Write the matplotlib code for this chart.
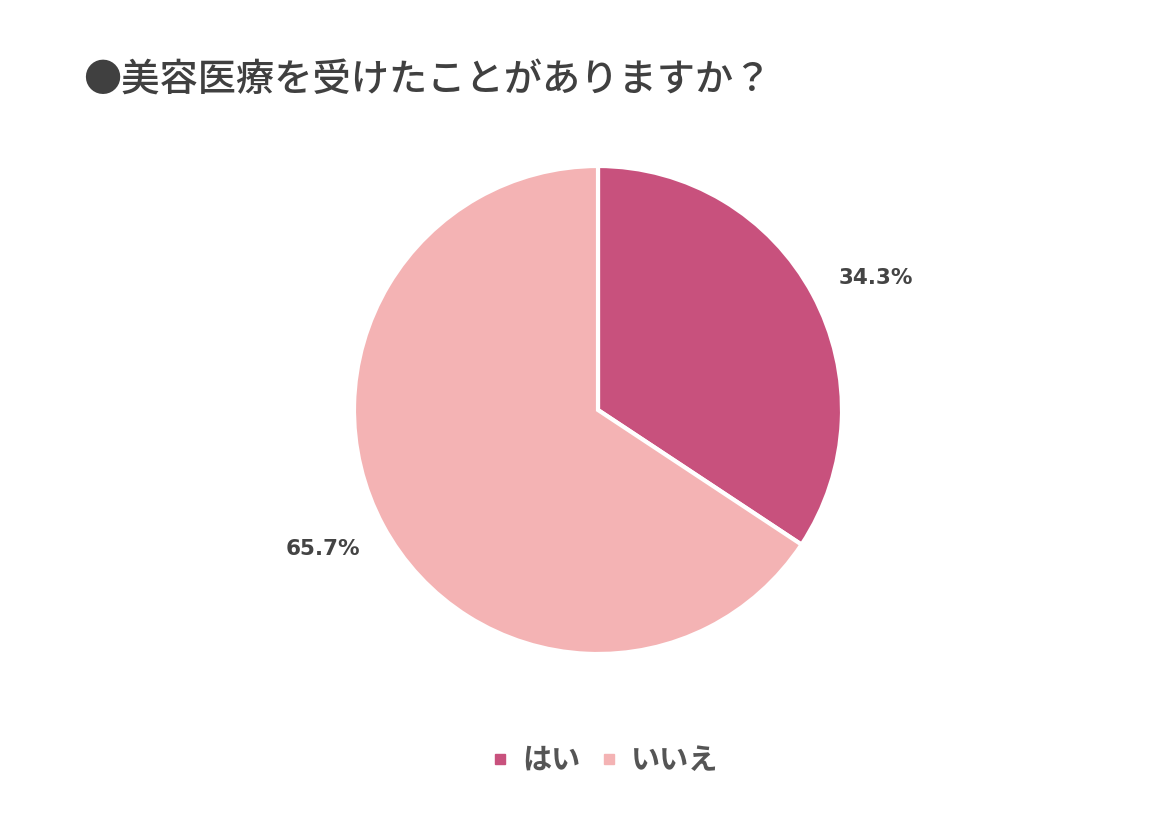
import matplotlib.pyplot as plt
from matplotlib.lines import Line2D

plt.rcParams['font.family'] = ['Noto Sans CJK JP', 'DejaVu Sans']

labels = ['はい', 'いいえ']
values = [34.3, 65.7]
colors = ['#C8517D', '#F4B3B4']
title = '●美容医療を受けたことがありますか？'

fig = plt.figure(figsize=(11.52, 8.14), dpi=100)
fig.set_facecolor('white')

# pie centre ~ (598, 410) px, radius ~244 px
cx, cy, r = 598, 410, 244
W, H = 1152, 814
ax = fig.add_axes([(cx - r) / W, (H - cy - r) / H, 2 * r / W, 2 * r / H])

wedges, texts, autotexts = ax.pie(
    values, colors=colors, startangle=90, counterclock=False,
    autopct='%.1f%%', pctdistance=1.27, radius=1,
    wedgeprops={'edgecolor': 'white', 'linewidth': 3},
)
# small nudges so the labels sit where the original puts them
nudges = [(0.02, -0.06), (-0.01, 0.03)]
for t, (dx, dy) in zip(autotexts, nudges):
    x, y = t.get_position()
    t.set_position((x + dx, y + dy))
    t.set_fontsize(15.5)
    t.set_fontweight('bold')
    t.set_color('#444444')
    t.set_family('DejaVu Sans')
ax.set_xlim(-1, 1)
ax.set_ylim(-1, 1)
ax.set_aspect('equal')

fig.text(83 / W, 1 - 80 / H, title, fontsize=27.5, color='#404040',
         fontweight='medium', ha='left', va='center')

handles = [Line2D([], [], marker='s', linestyle='none', markersize=7.5,
                  markerfacecolor=c, markeredgecolor=c) for c in colors]
leg = fig.legend(handles, labels, loc='center', bbox_to_anchor=(605 / W, 1 - 760 / H),
                 ncol=2, frameon=False, handlelength=0.6, handletextpad=0.45,
                 columnspacing=0.7, prop={'size': 21, 'weight': 'bold'})
for t in leg.get_texts():
    t.set_color('#555555')

fig.savefig('out.png', dpi=100)
